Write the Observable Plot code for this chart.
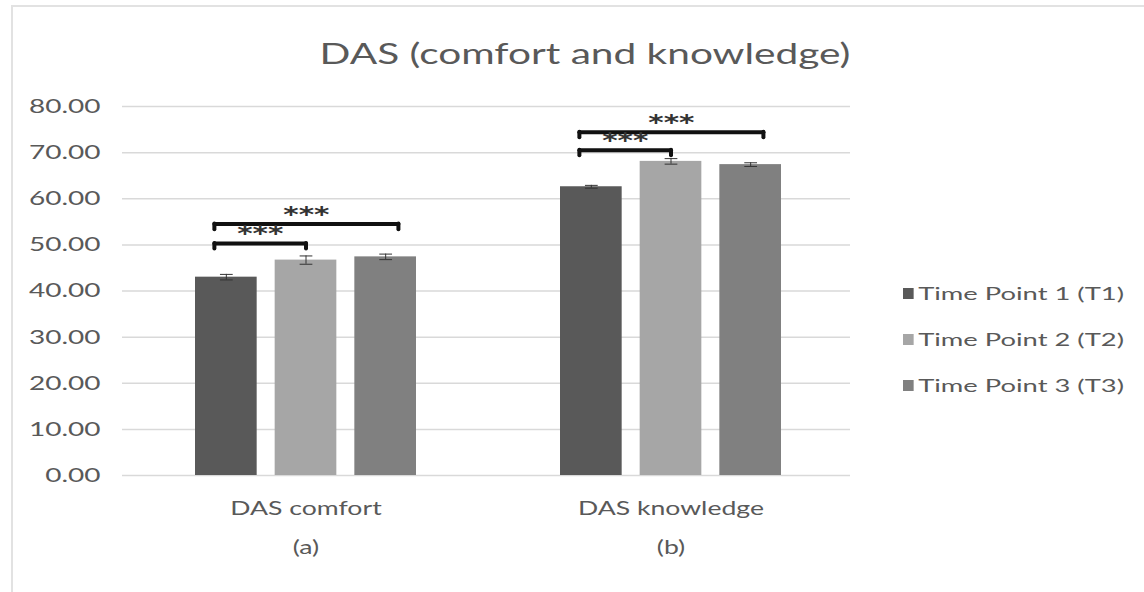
<!DOCTYPE html>
<html><head><meta charset="utf-8">
<script src="https://cdn.jsdelivr.net/npm/d3@7"></script>
<script src="https://cdn.jsdelivr.net/npm/@observablehq/plot@0.6"></script>
<style>
body{margin:0;background:#fff;}
#wrap{position:relative;width:1144px;height:592px;overflow:hidden;font-family:Lato,sans-serif;color:#595959;}
#border{position:absolute;left:11px;top:5px;right:-4px;bottom:-4px;border-top:2px solid #e2e2e2;border-left:2px solid #e2e2e2;}
.layer{position:absolute;left:0;top:0;}
#title{position:absolute;left:585px;top:35px;font-size:29px;white-space:nowrap;transform:translateX(-50%) scaleX(1.4);transform-origin:center;}
#legend{position:absolute;left:903px;top:270px;font-size:18px;transform:scaleX(1.52);transform-origin:left;}
.li{display:flex;align-items:center;height:46px;white-space:nowrap;}
.sw{width:7px;height:11px;margin-right:3px;}
</style></head><body>
<div id="wrap"><div id="border"></div><div id="base" class="layer"></div><div id="chart" class="layer"></div><div id="title">DAS (comfort and knowledge)</div><div id="legend"></div></div>
<script>
const categories = ["DAS comfort", "DAS knowledge"];
const subLabels = ["(a)", "(b)"];
const timePoints = ["Time Point 1 (T1)", "Time Point 2 (T2)", "Time Point 3 (T3)"];
const shortTime = ["T1", "T2", "T3"];
const colors = ["#595959", "#a6a6a6", "#808080"];
const comfortMeans = [43.0, 46.7, 47.4];
const comfortErr = [0.6, 0.9, 0.6];
const knowledgeMeans = [62.6, 68.1, 67.4];
const knowledgeErr = [0.3, 0.6, 0.4];
const yTicks = [0, 10, 20, 30, 40, 50, 60, 70, 80];
// significance brackets
const bracketCat = ["DAS comfort", "DAS comfort", "DAS knowledge", "DAS knowledge"];
const bracketFrom = ["T1", "T1", "T1", "T1"];
const bracketTo = ["T2", "T3", "T2", "T3"];
const bracketY = [50.3, 54.5, 70.5, 74.4];
const bracketLabel = ["***", "***", "***", "***"];

const STRETCH = 1.4;
const idx = t => shortTime.indexOf(t);
const rows = [];
[comfortMeans, knowledgeMeans].forEach((arr, ci) => arr.forEach((v, ti) => rows.push({
  cat: categories[ci], t: shortTime[ti], i: ti, v, e: [comfortErr, knowledgeErr][ci][ti]
})));
const br = bracketCat.map((c, k) => {
  const a = idx(bracketFrom[k]) + 0.5 - 0.15;
  const b = idx(bracketTo[k]) + 0.5 + (idx(bracketTo[k]) === 2 ? 0.16 : 0);
  return {cat: c, a, b, m: (a + b) / 2, y: bracketY[k], label: bracketLabel[k]};
});
const ends = br.flatMap(d => [{cat: d.cat, x: d.a, y: d.y}, {cat: d.cat, x: d.b, y: d.y}]);
const CAP = 0.08;

const common = {
  width: 1144, height: 592,
  marginLeft: 122, marginRight: 294, marginTop: 106, marginBottom: 117,
  style: {fontFamily: "Lato, sans-serif", color: "#595959", background: "transparent"}
};

const base = Plot.plot({
  ...common,
  x: {axis: null},
  y: {domain: [0, 80], axis: null},
  marks: [
    Plot.gridY(yTicks, {stroke: "#d9d9d9", strokeOpacity: 1, strokeWidth: 1.5}),
    Plot.axisY(yTicks, {tickSize: 0, tickPadding: 22, tickFormat: d => d.toFixed(2), fontSize: 20, fill: "#595959", label: null})
  ]
});

const plot = Plot.plot({
  ...common,
  marginLeft: 125, marginRight: 292,
  fx: {domain: categories, paddingInner: 0.344, paddingOuter: 0.166, label: null, axis: null},
  x: {type: "linear", domain: [0, 3], axis: null},
  y: {domain: [0, 80], axis: null},
  color: {domain: shortTime, range: colors},
  marks: [
    Plot.rectY(rows, {fx: "cat", x1: "i", x2: d => d.i + 1, y: "v", fill: "t", insetLeft: 9, insetRight: 9}),
    Plot.ruleX(rows, {fx: "cat", x: d => d.i + 0.5, y1: d => d.v - d.e, y2: d => d.v + d.e, stroke: "#333", strokeWidth: 1}),
    Plot.link(rows, {fx: "cat", x1: d => d.i + 0.5 - CAP, x2: d => d.i + 0.5 + CAP, y1: d => d.v + d.e, y2: d => d.v + d.e, stroke: "#333", strokeWidth: 1}),
    Plot.link(rows, {fx: "cat", x1: d => d.i + 0.5 - CAP, x2: d => d.i + 0.5 + CAP, y1: d => d.v - d.e, y2: d => d.v - d.e, stroke: "#333", strokeWidth: 1}),
    Plot.link(br, {fx: "cat", x1: "a", x2: "b", y1: "y", y2: "y", stroke: "#111", strokeWidth: 4, strokeLinecap: "round"}),
    Plot.ruleX(ends, {fx: "cat", x: "x", y1: d => d.y - 1.2, y2: "y", stroke: "#111", strokeWidth: 4, strokeLinecap: "round"}),
    Plot.text(br, {fx: "cat", x: "m", y: "y", text: "label", fontSize: 21, fontWeight: "bold", fontFamily: "DejaVu Sans", fill: "#333", dy: -2, lineAnchor: "bottom", textAnchor: "middle"}),
    Plot.axisFx({tickSize: 0, tickPadding: 26, fontSize: 19, fill: "#595959", label: null, anchor: "bottom"}),
    Plot.axisFx({tickSize: 0, tickPadding: 65, fontSize: 19, fill: "#595959", label: null, anchor: "bottom", tickFormat: d => subLabels[categories.indexOf(d)]})
  ]
});
document.getElementById("base").appendChild(base);
document.getElementById("chart").appendChild(plot);

// horizontal stretch of text to match the reference's wide lettering
for (const svg of [base, plot]) {
  svg.querySelectorAll("text").forEach(t => {
    if (t.querySelector("tspan")) return;
    const w = t.getComputedTextLength();
    if (w > 0) { t.setAttribute("textLength", w * STRETCH); t.setAttribute("lengthAdjust", "spacingAndGlyphs"); }
  });
}

const leg = document.getElementById("legend");
timePoints.forEach((t, i) => {
  const d = document.createElement("div"); d.className = "li";
  d.innerHTML = `<span class="sw" style="background:${colors[i]}"></span>${t}`;
  leg.appendChild(d);
});
</script>
</body></html>
